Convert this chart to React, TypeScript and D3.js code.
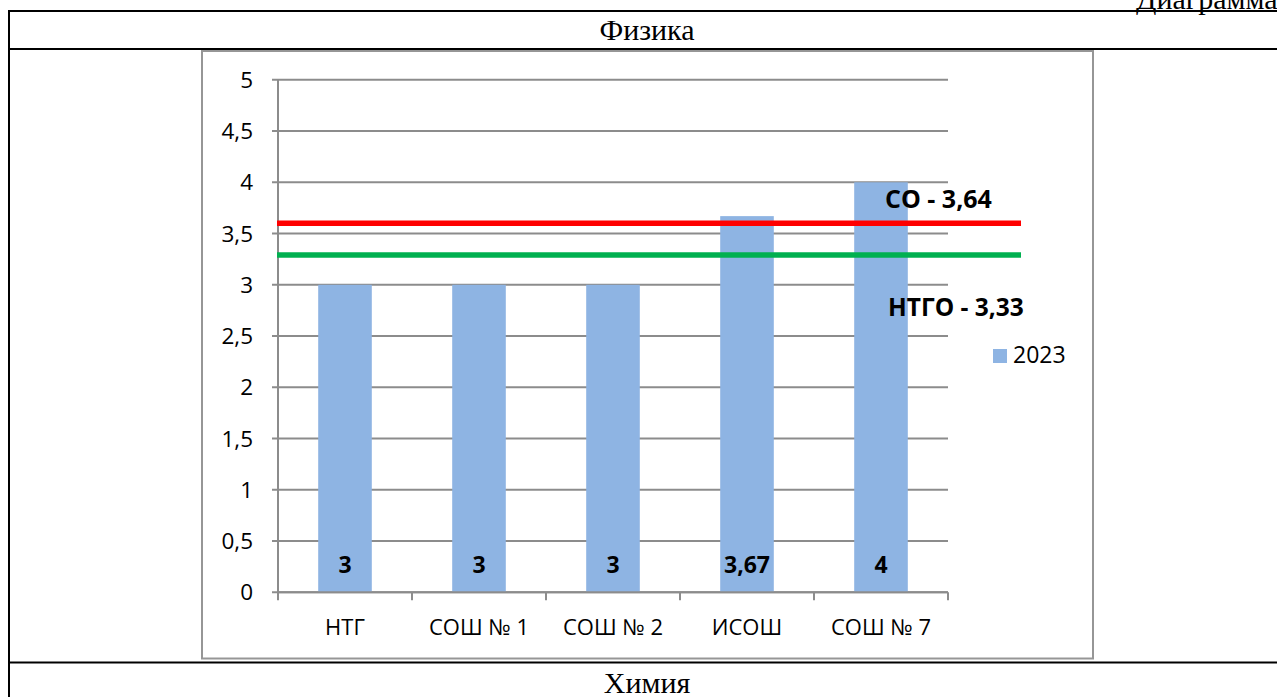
import * as d3 from "d3";

const categories = ["НТГ", "СОШ № 1", "СОШ № 2", "ИСОШ", "СОШ № 7"];
const values2023 = [3, 3, 3, 3.67, 4];
const valueLabels = ["3", "3", "3", "3,67", "4"];
const yTicks = [0, 0.5, 1, 1.5, 2, 2.5, 3, 3.5, 4, 4.5, 5];
const seriesName = "2023";
// reference levels as drawn on the picture, with their captions
const refLevels = [3.6, 3.29];
const refLabels = ["СО - 3,64", "НТГО - 3,33"];
const refColors = ["#FF0000", "#00B050"];

const W = 1277;
const H = 697;
const FONT = "'Open Sans', sans-serif";
const SERIF = "'Liberation Serif', 'Times New Roman', serif";

export default function App() {
  const x0 = 278;
  const x1 = 948;
  const y = d3.scaleLinear().domain([0, 5]).range([592.3, 79.8]);
  const xCat = d3.scaleBand<string>().domain(categories).range([x0, x1]).padding(0);
  const step = xCat.step();
  const barW = step * 0.4;
  const fmt = (v: number) => String(v).replace(".", ",");

  return (
    <div style={{ position: "fixed", left: 0, top: 0, width: W, height: H, overflow: "hidden", background: "#fff" }}>
      <svg width={W} height={H}>
        {/* document table */}
        <text x={1136} y={9} fontFamily={SERIF} fontSize={30} fill="#000">Диаграмма</text>
        <line x1={9} x2={W} y1={11} y2={11} stroke="#000" strokeWidth={2} />
        <line x1={9} x2={W} y1={49} y2={49} stroke="#000" strokeWidth={2} />
        <line x1={9} x2={W} y1={662.5} y2={662.5} stroke="#000" strokeWidth={2} />
        <line x1={9} x2={9} y1={10} y2={H} stroke="#000" strokeWidth={2} />
        <text x={647} y={40} textAnchor="middle" fontFamily={SERIF} fontSize={30} fill="#000">Физика</text>
        <text x={647} y={693} textAnchor="middle" fontFamily={SERIF} fontSize={30} fill="#000">Химия</text>

        {/* chart frame */}
        <rect x={202} y={51} width={891} height={607.5} fill="#fff" stroke="#969696" strokeWidth={2} />

        {/* gridlines + y axis */}
        {yTicks.map((t) => (
          <g key={t}>
            <line x1={x0 - 6} x2={x1} y1={y(t)} y2={y(t)} stroke="#8c8c8c" strokeWidth={2} />
            <text x={253} y={y(t)} dy="0.36em" textAnchor="end" fontFamily={FONT} fontSize={22.5} fill="#000">
              {fmt(t)}
            </text>
          </g>
        ))}

        {/* bars */}
        {categories.map((c, i) => (
          <rect
            key={c}
            x={(xCat(c) as number) + step * 0.3}
            y={y(values2023[i])}
            width={barW}
            height={y(0) - y(values2023[i])}
            fill="#8EB4E3"
          />
        ))}

        <line x1={x0} x2={x0} y1={y(5)} y2={y(0) + 8} stroke="#8c8c8c" strokeWidth={2} />
        <line x1={x0} x2={x1} y1={y(0)} y2={y(0)} stroke="#8c8c8c" strokeWidth={2} />
        {categories.map((c) => (
          <line key={c} x1={(xCat(c) as number) + step} x2={(xCat(c) as number) + step} y1={y(0)} y2={y(0) + 8} stroke="#8c8c8c" strokeWidth={2} />
        ))}
        {categories.map((c) => (
          <text key={c} x={(xCat(c) as number) + step / 2} y={635} textAnchor="middle" fontFamily={FONT} fontSize={22} fill="#000">
            {c}
          </text>
        ))}

        {/* value labels */}
        {categories.map((c, i) => (
          <text key={c} x={(xCat(c) as number) + step / 2} y={y(0) - 19} textAnchor="middle" fontFamily={FONT} fontWeight="bold" fontSize={23} fill="#000">
            {valueLabels[i]}
          </text>
        ))}

        {/* reference lines */}
        {refLevels.map((v, i) => (
          <line key={i} x1={x0 - 1} x2={1021} y1={y(v)} y2={y(v)} stroke={refColors[i]} strokeWidth={5.5} />
        ))}
        <text x={885} y={y(refLevels[0]) - 15} fontFamily={FONT} fontWeight="bold" fontSize={25} fill="#000">{refLabels[0]}</text>
        <text x={888} y={y(refLevels[1]) + 61} fontFamily={FONT} fontWeight="bold" fontSize={24.5} fill="#000">{refLabels[1]}</text>

        {/* legend */}
        <rect x={993} y={349} width={14} height={14} fill="#8EB4E3" />
        <text x={1013} y={363} fontFamily={FONT} fontSize={23} fill="#000">{seriesName}</text>
      </svg>
    </div>
  );
}
